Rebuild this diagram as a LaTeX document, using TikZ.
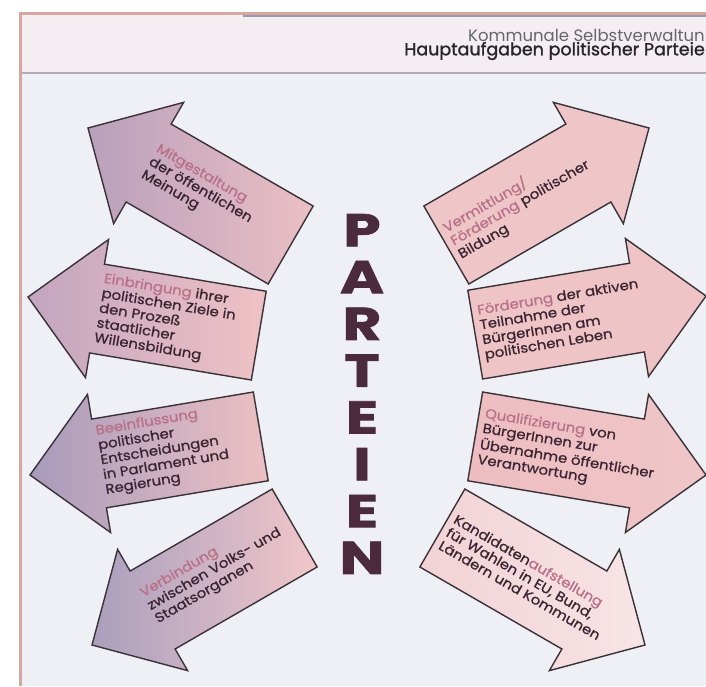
\documentclass[tikz,border=0pt]{standalone}
\usepackage{fontspec}
\setmainfont{Poppins}
\newfontfamily\widefont[FakeStretch=1.3, FakeBold=1.5]{Poppins}
\newfontfamily\armfont[FakeStretch=1.1, FakeBold=0.8]{Poppins}
\newfontfamily\headfont[FakeBold=1.3]{Poppins}
\usepackage{xcolor}
\usetikzlibrary{positioning}

\definecolor{framecol}{HTML}{D6A6A0}
\definecolor{toplinecol}{HTML}{9A98B0}
\definecolor{headbg}{HTML}{F4EEF3}
\definecolor{paperbg}{HTML}{EEF0F5}
\definecolor{sepcol}{HTML}{B4A8B6}
\definecolor{outline}{HTML}{3A3238}
\definecolor{textcol}{HTML}{3A2431}
\definecolor{hilite}{HTML}{B97189}
\definecolor{titlecol}{HTML}{4B2B3B}
% arrow fills
\definecolor{tipA}{HTML}{B9A0BB}\definecolor{tailA}{HTML}{EBBFC4}
\definecolor{tipB}{HTML}{C3A5BF}\definecolor{tailB}{HTML}{EFC2C5}
\definecolor{tipC}{HTML}{A89BBB}\definecolor{tailC}{HTML}{ECC0C3}
\definecolor{tipD}{HTML}{A99FBD}\definecolor{tailD}{HTML}{F1C6C9}
\definecolor{pinkA}{HTML}{EFC6C8}
\definecolor{pinkB}{HTML}{EFC4C6}
\definecolor{pinkC}{HTML}{EDBDC1}\definecolor{pinkCl}{HTML}{F0C6C8}
\definecolor{pinkD}{HTML}{F2D2D5}\definecolor{pinkDl}{HTML}{F8E4E6}

\newcommand{\kw}[1]{\textcolor{hilite}{#1}}
\newcommand{\arrowoutline}{(0,0) -- (70,-70) -- (70,-45) -- (234,-45) -- (234,45) -- (70,45) -- (70,70) -- cycle}

\begin{document}
\begin{tikzpicture}[x=1pt, y=-1pt,
    arm/.style 2 args={draw=outline, line width=1.4pt, left color=#1, right color=#2},
    armtext/.style={transform shape, anchor=west, align=left, inner sep=0pt, text=textcol, font=\armfont\fontsize{13.5}{15}\selectfont},
    backtext/.style={armtext, rotate=180},
    head/.style={anchor=east, inner sep=0pt, font=\fontsize{16.5}{18}\selectfont}
]
\useasboundingbox (0,0) rectangle (706,686);

% Paper and header
\fill[white] (0,0) rectangle (706,686);
\fill[paperbg] (20,13) rectangle (706,686);
\fill[headbg] (20,13) rectangle (706,73);
\draw[sepcol, line width=2pt] (20,73) -- (706,73);
\draw[toplinecol, line width=2pt] (243,16) -- (706,16);
\draw[framecol, line width=3pt] (20,686) -- (20,13) -- (706,13);

\node[head, text=black!60] (kommunal) at (705,35) {Kommunale Selbstverwaltun};
\node[head, text=black!85, font=\headfont\fontsize{17.5}{19}\selectfont] (hauptaufgaben) at (705,51) {Hauptaufgaben politischer Parteie};

% Left arrows
\begin{scope}[shift={(88,128)}, rotate=-30]
  \filldraw[arm={tipA}{tailA}] \arrowoutline;
  \node[armtext] (mitgestaltung) at (70,-2) {\kw{Mitgestaltung}\\der öffentlichen\\Meinung};
\end{scope}
\begin{scope}[shift={(28,297)}, rotate=-9.5]
  \filldraw[arm={tipB}{tailB}] \arrowoutline;
  \node[armtext] (einbringung) at (72,0) {\kw{Einbringung} ihrer\\politischen Ziele in\\den Prozeß\\staatlicher\\Willensbildung};
\end{scope}
\begin{scope}[shift={(30,475)}, rotate=9.5]
  \filldraw[arm={tipC}{tailC}] \arrowoutline;
  \node[armtext] (beeinflussung) at (72,-2) {\kw{Beeinflussung}\\politischer\\Entscheidungen\\in Parlament und\\Regierung};
\end{scope}
\begin{scope}[shift={(92,645)}, rotate=30]
  \filldraw[arm={tipD}{tailD}] \arrowoutline;
  \node[armtext] (verbindung) at (68,-4) {\kw{Verbindung}\\zwischen Volks- und\\Staatsorganen};
\end{scope}

% Right arrows
\begin{scope}[shift={(649,128)}, rotate=210]
  \filldraw[arm={pinkA}{pinkA}] \arrowoutline;
  \node[backtext] (vermittlung) at (228,0) {\kw{Vermittlung/}\\\kw{Förderung} politischer\\Bildung};
\end{scope}
\begin{scope}[shift={(706,296)}, rotate=189.5]
  \filldraw[arm={pinkB}{pinkB}] \arrowoutline;
  \node[backtext] (teilnahme) at (228,0) {\kw{Förderung} der aktiven\\Teilnahme der\\BürgerInnen am\\politischen Leben};
\end{scope}
\begin{scope}[shift={(706,475)}, rotate=170.5]
  \filldraw[arm={pinkC}{pinkCl}] \arrowoutline;
  \node[backtext] (qualifizierung) at (228,0) {\kw{Qualifizierung} von\\BürgerInnen zur\\Übernahme öffentlicher\\Verantwortung};
\end{scope}
\begin{scope}[shift={(645,645)}, rotate=150]
  \filldraw[arm={pinkD}{pinkDl}] \arrowoutline;
  \node[backtext] (kandidaten) at (228,0) {Kandidaten\kw{aufstellung}\\für Wahlen in EU, Bund,\\Ländern und Kommunen};
\end{scope}

% Title
\node[align=center, inner sep=0pt, text=titlecol, font=\widefont\bfseries\fontsize{46}{46.8}\selectfont] (parteien) at (362,394) {P\\A\\R\\T\\E\\I\\E\\N};

\end{tikzpicture}
\end{document}
